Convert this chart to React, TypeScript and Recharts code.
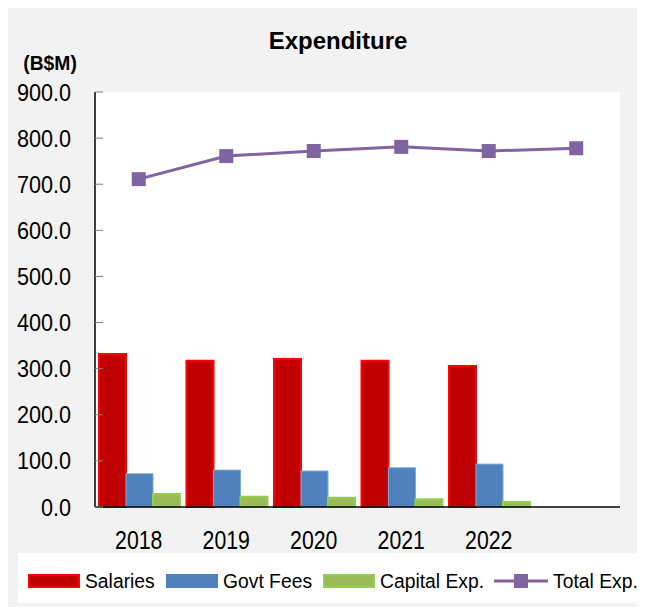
import React from "react";
import {
  ComposedChart,
  Bar,
  Line,
  XAxis,
  YAxis,
  CartesianGrid,
  Legend,
} from "recharts";

const categories = ["2018", "2019", "2020", "2021", "2022", ""];
const salaries = [332, 317, 321, 317, 306, null];
const govtFees = [72, 80, 78, 85, 93, null];
const capitalExp = [28, 22, 20, 17, 11, null];
const totalExp = [711, 761, 772, 781, 772, 778];
const yTicks = [0, 100, 200, 300, 400, 500, 600, 700, 800, 900];

const data = categories.map((c, i) => ({
  year: c,
  salaries: salaries[i],
  govtFees: govtFees[i],
  capitalExp: capitalExp[i],
  totalExp: totalExp[i],
}));

const FONT = "'Liberation Sans', Arial, sans-serif";

const YTick = (props: any) => {
  const { x, y, payload } = props;
  return (
    <g>
      <line x1={x + 24} x2={x + 32} y1={y} y2={y} stroke="#7f7f7f" strokeWidth={1} />
      <text
        transform={`translate(${x},${y + 8.5}) scale(0.9,1)`}
        x={0}
        y={0}
        textAnchor="end"
        fontFamily={FONT}
        fontSize={24}
        fill="#000"
      >
        {Number(payload.value).toFixed(1)}
      </text>
    </g>
  );
};

const XTick = (props: any) => {
  const { x, y, payload } = props;
  return (
    <text
      transform={`translate(${x},${y + 42}) scale(0.85,1)`}
      x={0}
      y={0}
      textAnchor="middle"
      fontFamily={FONT}
      fontSize={25}
      fill="#000"
    >
      {payload.value}
    </text>
  );
};

const SquareDot = (props: any) => {
  const { cx, cy } = props;
  if (cx == null || cy == null) return null;
  return <rect x={cx - 7} y={cy - 7} width={14} height={14} fill="#8064a2" />;
};

const LegText = ({ x, children }: { x: number; children: React.ReactNode }) => (
  <text
    transform={`translate(${x},35) scale(0.92,1)`}
    x={0}
    y={0}
    fontFamily={FONT}
    fontSize={21}
    fill="#000"
  >
    {children}
  </text>
);

const LegendContent = () => (
  <svg width={625} height={50} style={{ display: "block", background: "#fff" }}>
    <rect x={11} y={22} width={50} height={12} fill="#c00000" stroke="#ff0000" strokeWidth={2} />
    <LegText x={67}>Salaries</LegText>
    <rect x={148} y={21} width={52} height={14} fill="#4f81bd" />
    <LegText x={205}>Govt Fees</LegText>
    <rect x={306} y={22} width={50} height={12} fill="#9bbb59" stroke="#92d050" strokeWidth={2} />
    <LegText x={362}>Capital Exp.</LegText>
    <line x1={476} x2={530} y1={28} y2={28} stroke="#8064a2" strokeWidth={3} />
    <rect x={496} y={21} width={14} height={14} fill="#8064a2" />
    <LegText x={535}>Total Exp.</LegText>
  </svg>
);

export default function App() {
  return (
    <div style={{ position: "relative", width: 637, height: 599, background: "#f2f2f2" }}>
      <ComposedChart
        width={637}
        height={599}
        data={data}
        margin={{ top: 84, right: 25, bottom: 4, left: 0 }}
        barCategoryGap={4}
        barGap={0}
      >
        <CartesianGrid fill="#ffffff" stroke="none" horizontal={false} vertical={false} />
        <XAxis
          dataKey="year"
          axisLine={{ stroke: "#000", strokeWidth: 1.5 }}
          tickLine={false}
          tickSize={0}
          tickMargin={0}
          height={46}
          interval={0}
          tick={<XTick />}
        />
        <YAxis
          domain={[0, 900]}
          ticks={yTicks}
          width={87}
          axisLine={{ stroke: "#000", strokeWidth: 1.5 }}
          tickLine={false}
          tickSize={0}
          tickMargin={24}
          tick={<YTick />}
          interval={0}
        />
        <Legend
          verticalAlign="bottom"
          content={<LegendContent />}
          wrapperStyle={{ left: 10, bottom: 4, width: 625, height: 50 }}
        />
        <Bar dataKey="salaries" name="Salaries" fill="#c00000" stroke="#ff0000" strokeWidth={2} isAnimationActive={false} />
        <Bar dataKey="govtFees" name="Govt Fees" fill="#4f81bd" stroke="#7ea6d8" strokeWidth={1} isAnimationActive={false} />
        <Bar dataKey="capitalExp" name="Capital Exp." fill="#9bbb59" stroke="#92d050" strokeWidth={2} isAnimationActive={false} />
        <Line
          dataKey="totalExp"
          name="Total Exp."
          stroke="#8064a2"
          strokeWidth={3}
          dot={<SquareDot />}
          activeDot={false}
          isAnimationActive={false}
        />
      </ComposedChart>
      <svg
        width={637}
        height={80}
        style={{ position: "absolute", left: 0, top: 0, pointerEvents: "none" }}
      >
        <text x={330} y={41} textAnchor="middle" fontFamily={FONT} fontWeight="bold" fontSize={24} fill="#000">
          Expenditure
        </text>
        <text
          transform="translate(42,62) scale(0.92,1)"
          x={0}
          y={0}
          textAnchor="middle"
          fontFamily={FONT}
          fontWeight="bold"
          fontSize={21}
          fill="#000"
        >
          (B$M)
        </text>
      </svg>
    </div>
  );
}
